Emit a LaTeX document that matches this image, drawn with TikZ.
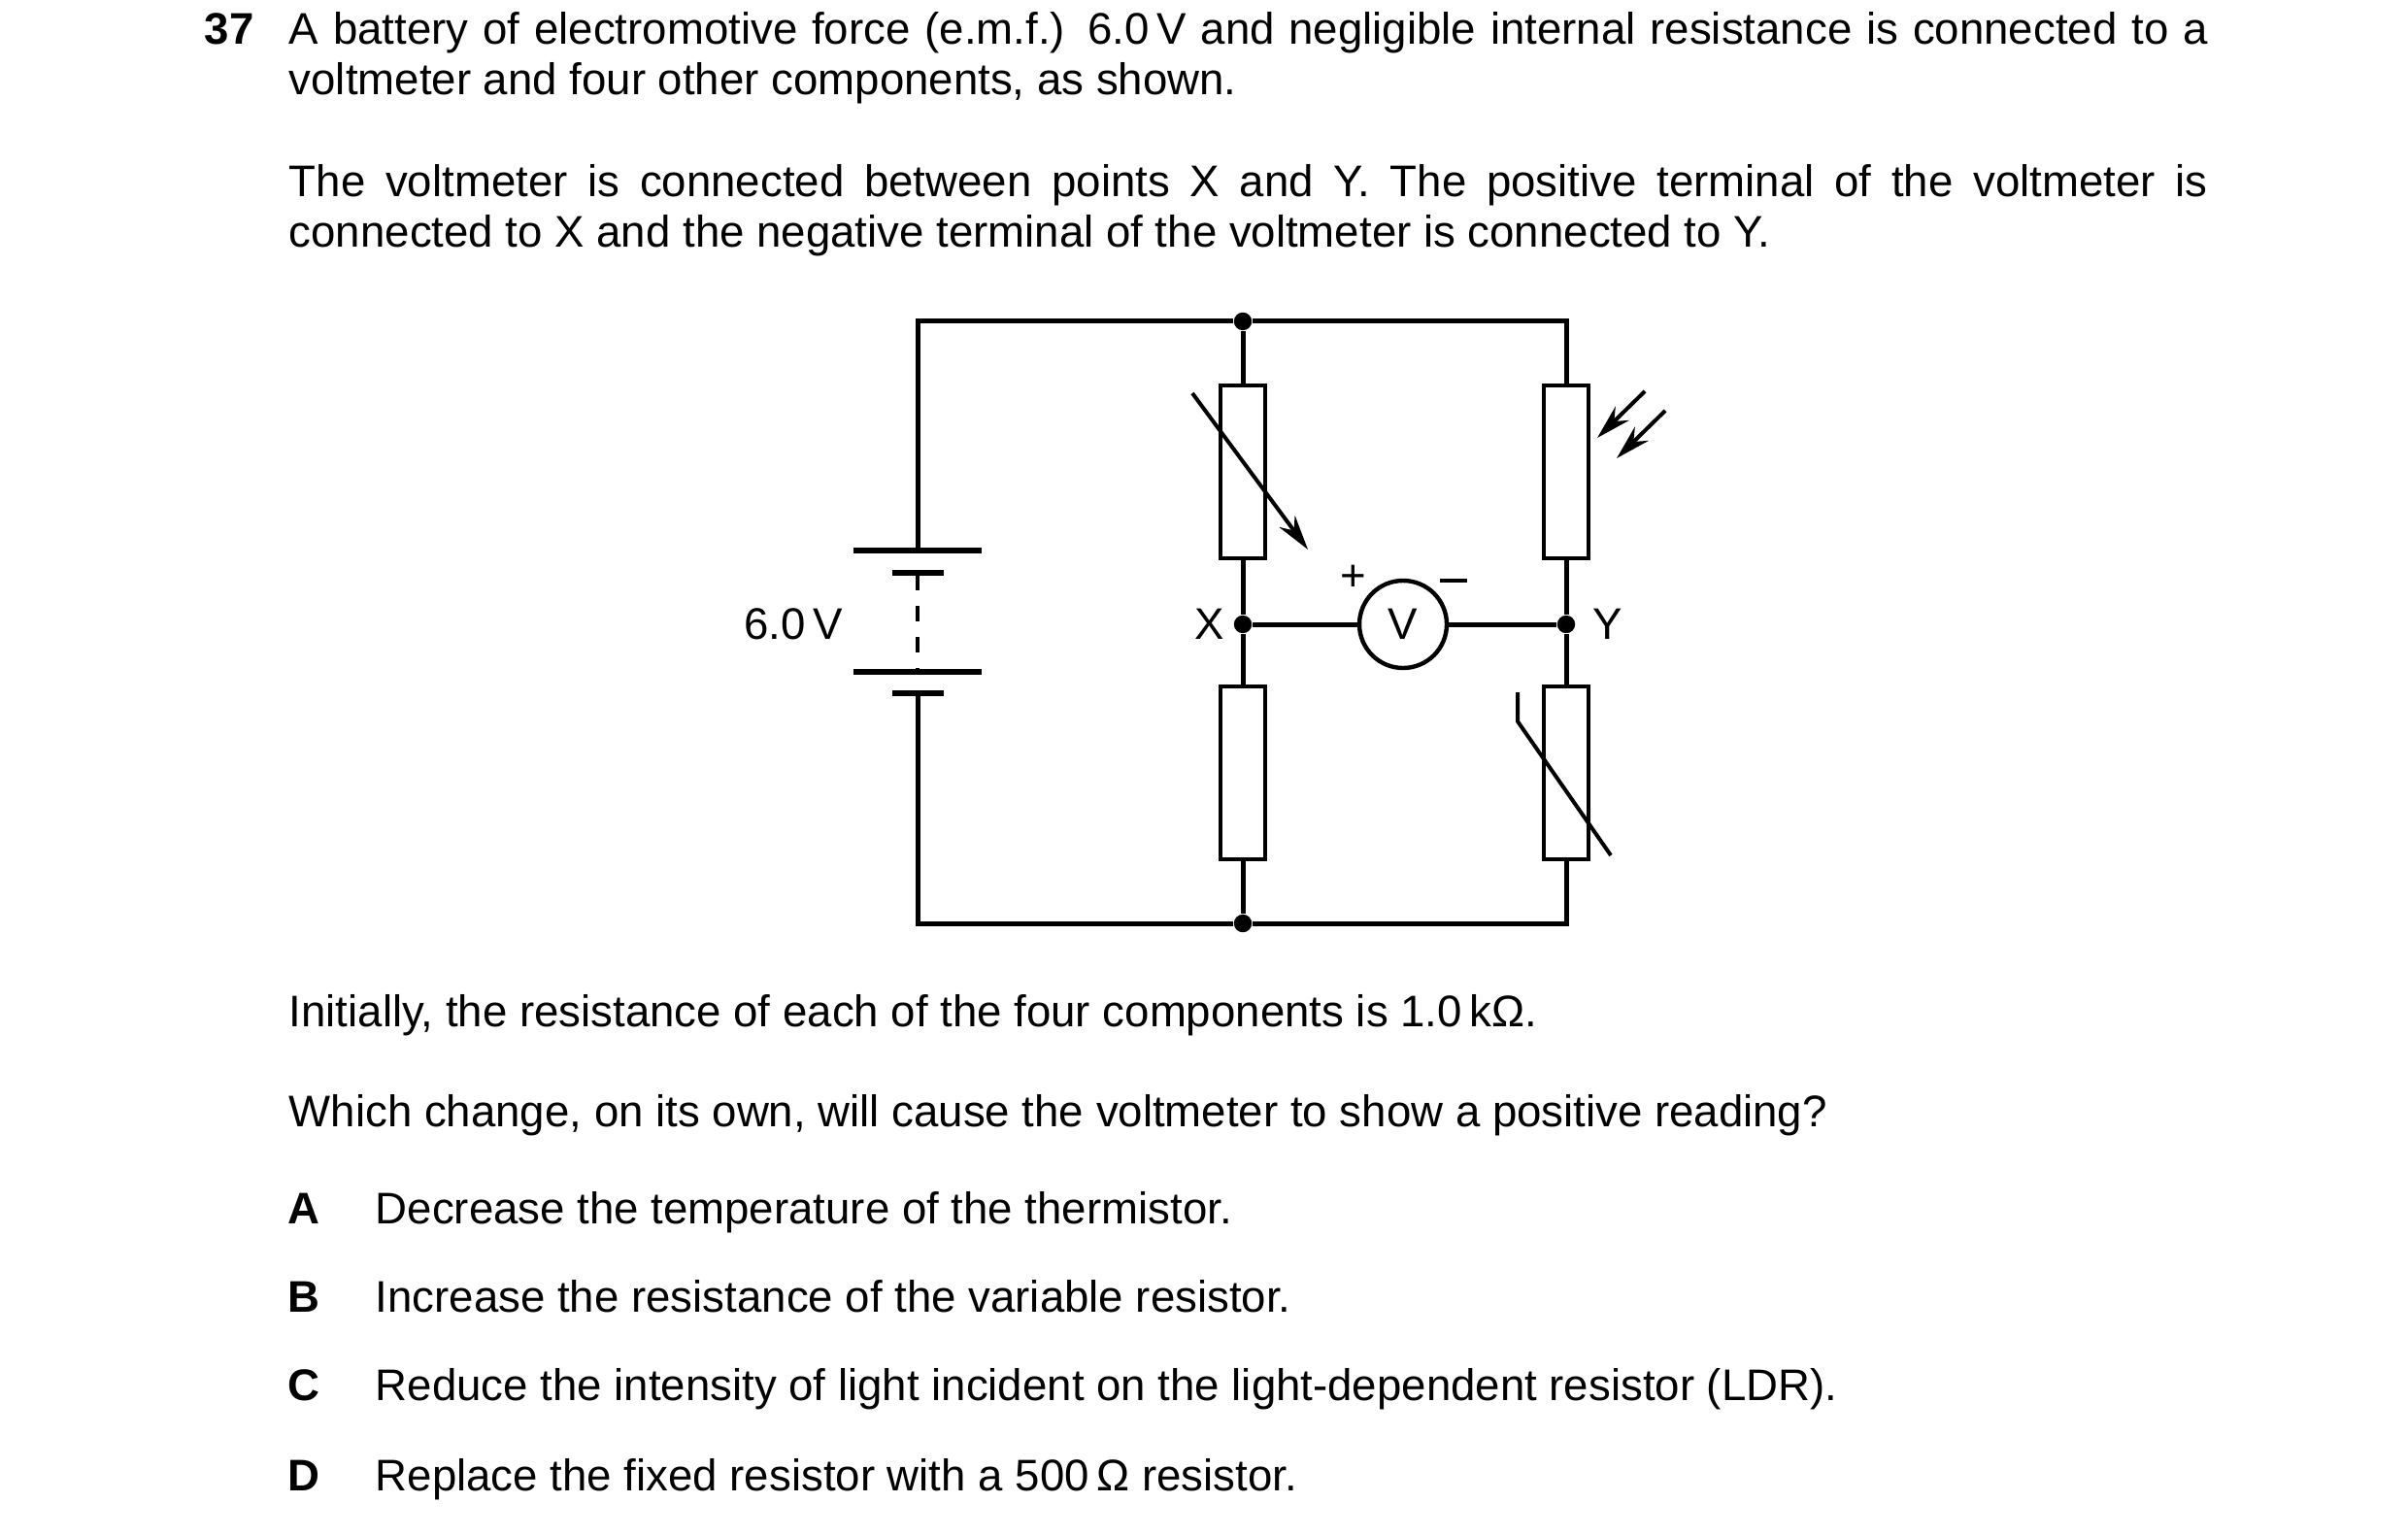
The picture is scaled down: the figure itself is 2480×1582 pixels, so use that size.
\documentclass[tikz,border=0pt]{standalone}
\usepackage{fontspec}
\setmainfont{Liberation Sans}
\usetikzlibrary{arrows.meta}

\tikzset{
  wire/.style={line width=1.25pt},
  res/.style={draw,line width=1.1pt,minimum width=11.5pt,minimum height=44.5pt,inner sep=0pt},
  dot/.style={circle,fill,inner sep=0pt,minimum size=4.6pt},
  txt/.style={inner sep=0pt,font=\fontsize{11.4}{13}\selectfont},
  par/.style={txt,text width=494pt,align=justify},
  ptr/.style={line width=1pt,-{Stealth[length=9pt,width=5pt]}}
}

\begin{document}
\begin{tikzpicture}[x=0.25pt,y=-0.25pt]
  \useasboundingbox (0,0) rectangle (2480,1582);

  %% Question text
  \node[txt,anchor=base west,font=\fontsize{11.4}{13}\bfseries] (num) at (210,46) {37};
  \node[par,anchor=base west] (intro) at (297,46) {A battery of electromotive force (e.m.f.) 6.0\,V and negligible internal resistance is connected to a\linebreak voltmeter and four other components, as shown.};
  \node[par,anchor=base west] (conn) at (297,203) {The voltmeter is connected between points X and Y. The positive terminal of the voltmeter is\linebreak connected to X and the negative terminal of the voltmeter is connected to Y.};
  \node[txt,anchor=base west] (init) at (297,1057) {Initially, the resistance of each of the four components is 1.0\,kΩ.};
  \node[txt,anchor=base west] (ask) at (297,1160) {Which change, on its own, will cause the voltmeter to show a positive reading?};

  %% Answer options
  \foreach \k/\y/\t in {A/1260/Decrease the temperature of the thermistor.,
                        B/1351/Increase the resistance of the variable resistor.,
                        C/1442/Reduce the intensity of light incident on the light-dependent resistor (LDR).,
                        D/1535/Replace the fixed resistor with a 500\,Ω resistor.}
  {
    \node[txt,anchor=base,font=\fontsize{11.4}{13}\bfseries] (opt\k) at (313,\y) {\k};
    \node[txt,anchor=base west] (ans\k) at (386,\y) {\t};
  }

  %% Junctions and corners
  \node[dot] (top) at (1280,331) {};
  \node[dot] (bot) at (1280,951) {};
  \node[dot] (X) at (1280,643) {};
  \node[dot] (Y) at (1613,643) {};
  \coordinate (TL) at (945,331);
  \coordinate (TR) at (1613,331);
  \coordinate (BL) at (945,951);
  \coordinate (BR) at (1613,951);

  %% Resistors
  \node[res] (VR)  at (1280,486) {};
  \node[res] (FR)  at (1280,796) {};
  \node[res] (LDR) at (1613,486) {};
  \node[res] (TH)  at (1613,796) {};

  %% Voltmeter
  \node[draw,circle,line width=1.1pt,minimum size=22.5pt,inner sep=0pt,font=\fontsize{11.4}{12}\selectfont] (V) at (1445,643) {V};

  %% Battery
  \coordinate (batT) at (945,567);
  \coordinate (batB) at (945,714);
  \draw[line width=1.5pt] (879,567) -- (1011,567);
  \draw[line width=1.5pt] (919,590) -- (972,590);
  \draw[line width=1.5pt] (879,692) -- (1011,692);
  \draw[line width=1.5pt] (919,714) -- (972,714);
  \draw[line width=0.9pt,dash pattern=on 4pt off 4pt] (945,592) -- (945,690);

  %% Wires
  \draw[wire] (batT) -- (TL) -- (top) -- (TR) -- (LDR.north);
  \draw[wire] (batB) -- (BL) -- (bot) -- (BR) -- (TH.south);
  \draw[wire] (top) -- (VR.north);
  \draw[wire] (VR.south) -- (X) -- (FR.north);
  \draw[wire] (FR.south) -- (bot);
  \draw[wire] (LDR.south) -- (Y) -- (TH.north);
  \draw[wire] (X) -- (V) -- (Y);

  %% Component marks
  \draw[ptr] (1228,405) -- (1347,566);
  \draw[line width=1pt] (1563,713) -- (1563,743) -- (1659,881);
  \draw[ptr] (1694,403) -- (1645,451);
  \draw[ptr] (1715,423) -- (1665,472);

  %% Labels
  \node[txt] (emf) at (817,643) {6.0\,V};
  \node[txt,anchor=east] (lX) at (1262,643) {X};
  \node[txt,anchor=west] (lY) at (1640,643) {Y};
  \node[txt] (plus) at (1394,595) {+};
  \node[inner sep=0pt] (minus) at (1497,598) {\rule{7pt}{0.8pt}};
\end{tikzpicture}
\end{document}
